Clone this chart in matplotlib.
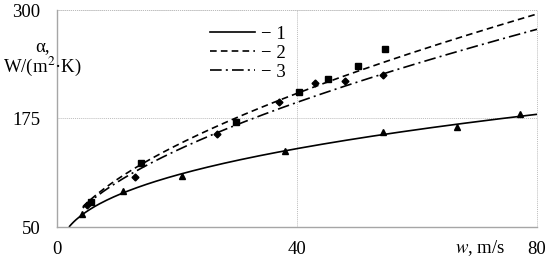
import matplotlib
matplotlib.use('Agg')
import matplotlib.pyplot as plt
import numpy as np

plt.rcParams['font.family'] = ['Liberation Serif', 'DejaVu Serif']
plt.rcParams['mathtext.fontset'] = 'stix'

# measured points (markers)
w1 = [4.2, 11, 20.8, 38, 54.3, 66.7, 77.2]
a1 = [65, 91.5, 109, 138, 159.5, 165, 180]
w2 = [5.7, 14, 29.8, 40.3, 45.2, 50.2, 54.7]
a2 = [79, 124, 171, 205.5, 220.5, 235.5, 255]
w3 = [5.0, 13, 26.7, 37, 43, 48, 54.3]
a3 = [75, 108, 157, 194, 216, 218, 225]

# points
cw1 = [2, 4.2, 11, 20.8, 38, 54.3, 80]
ca1 = [50, 64, 91, 109, 138, 157, 180]
cw2 = [4.3, 14, 30, 40, 55, 80]
ca2 = [73, 124, 171, 205, 245, 294]
cw3 = [4.3, 14, 26.7, 40, 48, 80]
ca3 = [72, 118, 155, 196, 216, 275]

xticks = [0, 40, 80]
yticks = [50, 175, 300]

FS = 13.5


def trend(cw, ca):
    # smooth curve through the read points (log-log quadratic)
    p = np.polyfit(np.log(cw), np.log(ca), 2)
    x = np.linspace(min(cw), max(cw), 200)
    return x, np.exp(np.polyval(p, np.log(x)))


fig = plt.figure(figsize=(5.5, 2.6), dpi=100)
ax = fig.add_axes([57/550, 33/260, 480/550, 217/260])

x, y = trend(cw1, ca1)
ax.plot(x, y, color='black', lw=1.2, solid_capstyle='butt')
x, y = trend(cw2, ca2)
ax.plot(x, y, color='black', lw=1.2, dashes=(4, 2.5))
x, y = trend(cw3, ca3)
ax.plot(x, y, color='black', lw=1.2, dashes=(7, 2.5, 1.2, 2.5))

ax.plot(w1, a1, '^', color='black', ms=4.5, ls='none')
ax.plot(w2, a2, 's', color='black', ms=4.5, ls='none')
ax.plot(w3, a3, 'D', color='black', ms=3.5, ls='none')

ax.set_xlim(0, 80)
ax.set_ylim(50, 300)
ax.set_xticks(xticks)
ax.set_yticks(yticks)
ax.tick_params(length=0, labelsize=FS, colors='black')
ax.tick_params(axis='y', pad=12)
ax.tick_params(axis='x', pad=10)
for s in ['top', 'right']:
    ax.spines[s].set_visible(False)
for s in ['left', 'bottom']:
    ax.spines[s].set_color('#a6a6a6')
    ax.spines[s].set_linewidth(1.0)
ax.grid(True, color='#bdbdbd', ls=(0, (1, 1)), lw=0.7)
ax.set_axisbelow(True)
# dotted frame lines at 80 and 300
ax.axvline(80, color='#bdbdbd', ls=(0, (1, 1)), lw=0.7, clip_on=False)
ax.axhline(300, color='#bdbdbd', ls=(0, (1, 1)), lw=0.7, clip_on=False)

ax.text(70.6, -0.097, '$w$, m/s', transform=ax.get_xaxis_transform(),
        ha='center', va='center', fontsize=FS)

fig.text(42/550, 1 - 47/260, 'α,', ha='center', va='center', fontsize=FS)
fig.text(42/550, 1 - 66/260, 'W/(m$^2$·K)', ha='center', va='center', fontsize=FS)

leg = ax.legend(
    [plt.Line2D([], [], color='black', lw=1.2),
     plt.Line2D([], [], color='black', lw=1.2, dashes=(4, 2.5)),
     plt.Line2D([], [], color='black', lw=1.2, dashes=(7, 2.5, 1.2, 2.5))],
    ['− 1', '− 2', '− 3'],
    loc='upper left', bbox_to_anchor=((202 - 57) / 480, 1 - 7 / 217),
    frameon=False, fontsize=FS, handlelength=2.4, handletextpad=0.35,
    labelspacing=0.0, borderaxespad=0, handleheight=1.0)

fig.savefig('out.png', dpi=100)
